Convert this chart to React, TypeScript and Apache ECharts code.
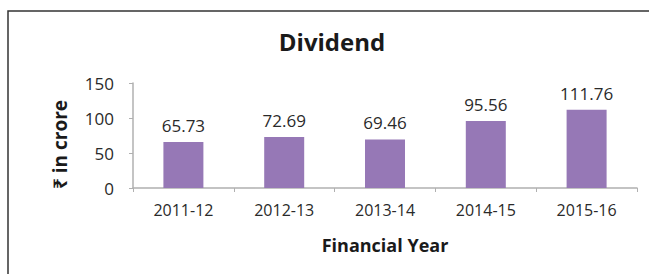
import React, { useEffect, useRef } from "react";
import * as echarts from "echarts";

const categories = ["2011-12", "2012-13", "2013-14", "2014-15", "2015-16"];
const dividend = [65.73, 72.69, 69.46, 95.56, 111.76];
const yTicks = { min: 0, max: 150, interval: 50 };

const FONT = "'Open Sans', 'Noto Sans', sans-serif";

export default function App() {
  const ref = useRef<HTMLDivElement>(null);
  useEffect(() => {
    if (!ref.current) return;
    const chart = echarts.init(ref.current, null, { renderer: "svg" });
    chart.setOption({
      animation: false,
      backgroundColor: "#ffffff",
      title: {
        text: "Dividend",
        left: 327,
        textAlign: "center",
        top: 24,
        textStyle: { fontFamily: FONT, fontWeight: "bold", fontSize: 24, color: "#1a1a1a" },
      },
      graphic: [
        {
          type: "polyline",
          shape: { points: [[8, 300], [8, 11], [700, 11]] },
          style: { fill: "none", stroke: "#333333", lineWidth: 1.5 },
          silent: true,
        },
      ],
      grid: { left: 133, right: 12, top: 83, bottom: 86 },
      xAxis: {
        type: "category",
        data: categories,
        name: "Financial Year",
        nameLocation: "middle",
        nameGap: 48,
        nameTextStyle: { fontFamily: FONT, fontWeight: "bold", fontSize: 18, color: "#1a1a1a" },
        axisLine: { lineStyle: { color: "#b0b0b0", width: 1.5 } },
        axisTick: { show: true, length: 4, lineStyle: { color: "#b0b0b0" } },
        axisLabel: { fontFamily: FONT, fontSize: 16, color: "#2a2a2a", margin: 14 },
      },
      yAxis: {
        type: "value",
        min: yTicks.min,
        max: yTicks.max,
        interval: yTicks.interval,
        name: "₹ in crore",
        nameLocation: "middle",
        nameGap: 64,
        nameRotate: 90,
        nameTextStyle: {
          fontFamily: FONT,
          fontWeight: "bold",
          fontSize: 19,
          color: "#1a1a1a",
          padding: [0, 18, 0, 0],
        },
        axisLine: { show: true, lineStyle: { color: "#b0b0b0", width: 1.5 } },
        axisTick: { show: true, length: 4, lineStyle: { color: "#b0b0b0" } },
        axisLabel: { fontFamily: FONT, fontSize: 17, color: "#2a2a2a", margin: 19 },
        splitLine: { show: false },
      },
      series: [
        {
          type: "bar",
          data: dividend,
          barWidth: 40,
          itemStyle: { color: "#9678b6" },
          label: {
            show: true,
            position: "top",
            distance: 8,
            fontFamily: FONT,
            fontSize: 17,
            color: "#2a2a2a",
            formatter: (p: any) => p.value.toFixed(2),
          },
        },
      ],
    });
    return () => chart.dispose();
  }, []);
  return (
    <div
      ref={ref}
      style={{ position: "fixed", left: 0, top: 0, width: 649, height: 274 }}
    />
  );
}
